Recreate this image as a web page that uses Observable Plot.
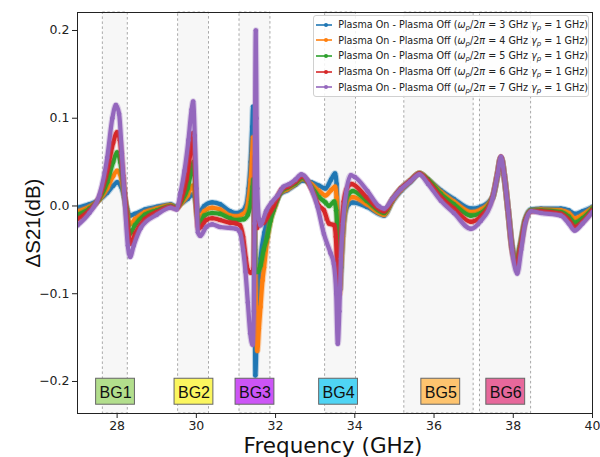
<!DOCTYPE html>
<html><head><meta charset="utf-8">
<script src="https://cdn.jsdelivr.net/npm/d3@7"></script>
<script src="https://cdn.jsdelivr.net/npm/@observablehq/plot@0.6"></script>
<style>
body{margin:0;background:#fff;}
#wrap{position:relative;width:600px;height:457px;}
#legend{position:absolute;left:313px;top:15px;width:276px;height:82px;box-sizing:border-box;background:rgba(255,255,255,0.85);border:1px solid #d0d0d0;border-radius:3px;font-family:"DejaVu Sans";font-size:9.6px;color:#222;padding-top:1px}
.row{height:15.6px;display:flex;align-items:center;white-space:nowrap}
.row svg{margin-left:1px;margin-right:6px}
.row sub{font-size:7px;vertical-align:-2px;line-height:0}
</style></head><body><div id="wrap"><div id="chart"></div><div id="legend"></div></div>
<script>
// ---- data ----
const omegaGHz = [3, 4, 5, 6, 7];
const gammaGHz = 1;
const colors = ["#1f77b4", "#ff7f0e", "#2ca02c", "#d62728", "#9467bd"];

const s3GHz = [[27.0,-0.002],[27.3,0.002],[27.55,0.007],[27.75,0.015],[27.9,0.023],[28.0,0.027],[28.1,0.022],[28.18,0.01],[28.25,-0.003],[28.32,-0.011],[28.45,-0.009],[28.7,-0.004],[29.0,-0.001],[29.35,0.002],[29.5,-0.001],[29.62,0.003],[29.78,0.008],[29.9,0.013],[29.96,0.01],[30.02,-0.004],[30.08,-0.006],[30.2,0.0],[30.4,0.004],[30.6,0.002],[30.85,-0.006],[31.0,-0.008],[31.15,-0.006],[31.25,0.0],[31.32,0.02],[31.37,0.05],[31.41,0.09],[31.43,0.113],[31.45,0.05],[31.47,-0.07],[31.49,-0.193],[31.52,-0.15],[31.56,-0.1],[31.62,-0.06],[31.72,-0.03],[31.85,-0.008],[32.0,0.003],[32.1,0.013],[32.3,0.018],[32.5,0.024],[32.68,0.029],[32.9,0.027],[33.1,0.023],[33.26,0.02],[33.4,0.03],[33.5,0.037],[33.54,0.025],[33.57,-0.02],[33.6,-0.075],[33.63,-0.095],[33.66,-0.07],[33.7,-0.035],[33.75,-0.01],[33.85,0.002],[33.95,0.004],[34.3,-0.001],[34.74,-0.011],[34.95,0.005],[35.16,0.017],[35.4,0.027],[35.63,0.037],[35.85,0.03],[36.17,0.018],[36.5,0.008],[36.93,-0.003],[37.18,-0.001],[37.48,0.01],[37.6,0.035],[37.69,0.055],[37.77,0.035],[37.87,-0.005],[37.97,-0.045],[38.08,-0.06],[38.17,-0.045],[38.3,-0.015],[38.45,-0.004],[38.7,-0.003],[39.2,-0.003],[39.4,-0.005],[39.55,-0.009],[39.75,-0.006],[40.0,-0.001]];

const s4GHz = [[27.0,-0.006],[27.3,-0.001],[27.55,0.007],[27.75,0.02],[27.9,0.034],[28.0,0.04],[28.1,0.032],[28.18,0.012],[28.25,-0.006],[28.32,-0.021],[28.45,-0.015],[28.7,-0.007],[29.0,-0.003],[29.35,0.001],[29.5,-0.002],[29.62,0.003],[29.78,0.012],[29.9,0.023],[29.96,0.015],[30.02,-0.008],[30.08,-0.013],[30.2,-0.006],[30.4,-0.002],[30.6,-0.004],[30.85,-0.011],[31.0,-0.012],[31.15,-0.01],[31.25,-0.006],[31.32,0.008],[31.37,0.03],[31.41,0.06],[31.43,0.078],[31.45,0.04],[31.48,-0.05],[31.51,-0.12],[31.54,-0.165],[31.58,-0.14],[31.62,-0.115],[31.67,-0.085],[31.71,-0.07],[31.8,-0.035],[31.87,-0.017],[32.0,0.001],[32.1,0.014],[32.3,0.019],[32.5,0.025],[32.68,0.031],[32.9,0.025],[33.1,0.017],[33.26,0.012],[33.4,0.018],[33.5,0.022],[33.54,0.01],[33.57,-0.03],[33.6,-0.08],[33.62,-0.1],[33.65,-0.075],[33.7,-0.035],[33.75,-0.008],[33.85,0.008],[33.95,0.01],[34.3,0.002],[34.74,-0.01],[34.95,0.006],[35.16,0.018],[35.4,0.028],[35.63,0.037],[35.85,0.03],[36.17,0.016],[36.5,0.005],[36.93,-0.007],[37.18,-0.004],[37.48,0.01],[37.6,0.035],[37.69,0.055],[37.77,0.035],[37.87,-0.005],[37.97,-0.047],[38.08,-0.062],[38.17,-0.047],[38.3,-0.016],[38.45,-0.005],[38.7,-0.004],[39.2,-0.005],[39.4,-0.008],[39.55,-0.014],[39.75,-0.01],[40.0,-0.002]];

const s5GHz = [[27.0,-0.01],[27.3,-0.003],[27.55,0.008],[27.75,0.027],[27.9,0.05],[28.0,0.061],[28.08,0.05],[28.18,0.015],[28.25,-0.01],[28.32,-0.032],[28.45,-0.022],[28.7,-0.01],[29.0,-0.005],[29.35,0.0],[29.5,-0.002],[29.62,0.005],[29.78,0.02],[29.9,0.045],[29.93,0.05],[29.97,0.025],[30.02,-0.012],[30.08,-0.02],[30.2,-0.011],[30.4,-0.008],[30.6,-0.009],[30.85,-0.014],[31.0,-0.016],[31.2,-0.015],[31.3,-0.01],[31.38,0.005],[31.42,0.022],[31.44,0.03],[31.46,0.0],[31.48,-0.05],[31.5,-0.075],[31.55,-0.075],[31.62,-0.068],[31.7,-0.05],[31.79,-0.035],[31.87,-0.017],[31.95,-0.005],[32.05,0.008],[32.15,0.017],[32.3,0.021],[32.5,0.026],[32.68,0.032],[32.9,0.022],[33.1,0.01],[33.26,0.004],[33.35,0.0],[33.48,0.005],[33.53,-0.005],[33.57,-0.04],[33.6,-0.09],[33.63,-0.07],[33.68,-0.03],[33.75,0.0],[33.85,0.014],[33.95,0.017],[34.3,0.006],[34.74,-0.008],[34.95,0.008],[35.16,0.02],[35.4,0.029],[35.63,0.037],[35.85,0.03],[36.17,0.014],[36.5,0.002],[36.93,-0.011],[37.18,-0.008],[37.48,0.01],[37.6,0.035],[37.69,0.055],[37.77,0.035],[37.87,-0.005],[37.97,-0.048],[38.08,-0.064],[38.17,-0.048],[38.3,-0.017],[38.45,-0.005],[38.7,-0.005],[39.2,-0.007],[39.4,-0.012],[39.55,-0.019],[39.75,-0.014],[40.0,-0.003]];

const s6GHz = [[27.0,-0.015],[27.3,-0.005],[27.55,0.01],[27.75,0.04],[27.9,0.072],[28.0,0.084],[28.07,0.075],[28.15,0.035],[28.22,0.0],[28.3,-0.035],[28.35,-0.043],[28.45,-0.032],[28.7,-0.015],[29.0,-0.007],[29.35,-0.001],[29.5,-0.003],[29.62,0.008],[29.75,0.03],[29.85,0.06],[29.92,0.083],[29.96,0.05],[30.0,0.0],[30.05,-0.026],[30.12,-0.024],[30.25,-0.016],[30.4,-0.014],[30.6,-0.016],[30.85,-0.019],[31.0,-0.02],[31.1,-0.022],[31.18,-0.035],[31.25,-0.06],[31.3,-0.073],[31.38,-0.076],[31.44,-0.072],[31.47,0.0],[31.49,0.056],[31.51,0.0],[31.53,-0.025],[31.6,-0.02],[31.7,-0.019],[31.8,-0.012],[31.95,0.0],[32.05,0.01],[32.15,0.019],[32.3,0.022],[32.5,0.028],[32.68,0.034],[32.9,0.02],[33.1,0.0],[33.22,-0.005],[33.35,-0.02],[33.48,-0.022],[33.52,-0.035],[33.56,-0.08],[33.58,-0.105],[33.61,-0.08],[33.66,-0.03],[33.72,0.005],[33.8,0.02],[33.92,0.025],[34.3,0.01],[34.74,-0.006],[34.95,0.008],[35.16,0.02],[35.4,0.029],[35.63,0.037],[35.85,0.028],[36.17,0.01],[36.5,-0.003],[36.93,-0.018],[37.18,-0.012],[37.48,0.01],[37.6,0.036],[37.69,0.056],[37.77,0.035],[37.87,-0.005],[37.97,-0.05],[38.08,-0.068],[38.17,-0.05],[38.3,-0.018],[38.45,-0.006],[38.7,-0.006],[39.2,-0.009],[39.4,-0.016],[39.55,-0.024],[39.75,-0.018],[40.0,-0.005]];

const s7GHz = [[27.0,-0.022],[27.3,-0.008],[27.55,0.012],[27.75,0.055],[27.88,0.1],[27.97,0.115],[28.05,0.105],[28.12,0.06],[28.2,0.0],[28.27,-0.045],[28.33,-0.058],[28.42,-0.045],[28.6,-0.025],[29.0,-0.01],[29.35,-0.002],[29.5,-0.004],[29.6,0.015],[29.7,0.04],[29.8,0.075],[29.88,0.11],[29.92,0.119],[29.96,0.08],[30.0,0.02],[30.04,-0.03],[30.1,-0.034],[30.25,-0.024],[30.4,-0.021],[30.6,-0.024],[30.85,-0.025],[31.0,-0.026],[31.1,-0.03],[31.18,-0.05],[31.24,-0.075],[31.3,-0.11],[31.36,-0.145],[31.42,-0.158],[31.45,-0.12],[31.47,-0.02],[31.48,0.08],[31.5,0.2],[31.52,0.1],[31.54,0.02],[31.58,-0.015],[31.62,-0.022],[31.68,-0.016],[31.76,-0.006],[31.9,0.004],[32.05,0.012],[32.2,0.022],[32.35,0.025],[32.5,0.03],[32.65,0.036],[32.8,0.03],[32.89,0.021],[33.06,-0.001],[33.22,-0.032],[33.39,-0.054],[33.47,-0.066],[33.53,-0.1],[33.57,-0.157],[33.61,-0.12],[33.65,-0.06],[33.7,-0.02],[33.78,0.015],[33.9,0.035],[34.0,0.033],[34.32,0.017],[34.6,0.0],[34.74,-0.003],[34.95,0.008],[35.16,0.019],[35.4,0.028],[35.63,0.036],[35.85,0.025],[36.17,0.006],[36.5,-0.008],[36.93,-0.026],[37.18,-0.017],[37.48,0.009],[37.6,0.035],[37.69,0.056],[37.77,0.035],[37.87,-0.005],[37.97,-0.05],[38.1,-0.077],[38.2,-0.05],[38.3,-0.02],[38.45,-0.006],[38.7,-0.008],[39.2,-0.011],[39.4,-0.02],[39.55,-0.028],[39.75,-0.02],[40.0,-0.007]];

const bandNames = ["BG1", "BG2", "BG3", "BG4", "BG5", "BG6"];
const bandStart = [27.64, 29.54, 31.09, 33.25, 35.25, 37.16];
const bandEnd   = [28.27, 30.32, 31.87, 34.03, 37.0, 38.45];
const labelFreq = [27.96, 29.94, 31.48, 33.59, 36.17, 37.81];
const labelValue = -0.2117;
const labelColors = ["#b2de8c", "#fbf65f", "#cc55f6", "#4fd4f4", "#fec46f", "#e7689b"];

const xTicks = [28, 30, 32, 34, 36, 38, 40];
const yTicks = [-0.2, -0.1, 0.0, 0.1, 0.2];

// ---- build ----
const allSeries = [s3GHz, s4GHz, s5GHz, s6GHz, s7GHz];
const yDomain = [-0.2365, 0.2205];
const bands = bandNames.map((n, i) => ({name: n, x1: bandStart[i], x2: bandEnd[i]}));
const labels = bandNames.map((n, i) => ({name: n, f: labelFreq[i], color: labelColors[i]}));

const marks = [
  Plot.rect(bands, {x1: "x1", x2: "x2", y1: yDomain[0], y2: yDomain[1], fill: "#f7f7f7", stroke: "#a8a8a8", strokeWidth: 1, strokeDasharray: "2.5,2.5"})
];
allSeries.forEach((pts, i) => {
  const c = colors[i];
  marks.push(
    Plot.line(pts, {x: d => d[0], y: d => d[1], stroke: c, strokeWidth: 6.4, strokeOpacity: 0.3, curve: "monotone-x", clip: true}),
    Plot.line(pts, {x: d => d[0], y: d => d[1], stroke: c, strokeWidth: 4.2, curve: "monotone-x", clip: true}),
    Plot.dot(pts, {x: d => d[0], y: d => d[1], r: 2.3, fill: c, clip: true})
  );
});
const boxW = 0.49, boxH = 0.0148;
marks.push(
  Plot.rect(labels, {x1: d => d.f - boxW, x2: d => d.f + boxW, y1: labelValue - boxH, y2: labelValue + boxH, fill: "color", stroke: "#666", strokeWidth: 1}),
  Plot.text(labels, {x: "f", y: labelValue, text: "name", fontSize: 16, fontFamily: "Liberation Sans", fill: "#111", dy: 1}),
  Plot.axisX({ticks: xTicks, tickSize: 5, tickPadding: 2.5, label: null, fontSize: 12.5}),
  Plot.axisY({ticks: yTicks, tickSize: 5, tickPadding: 3, label: null, fontSize: 12.5, tickFormat: d => d.toFixed(1).replace("-", "\u2212")}),
  Plot.frame({stroke: "#222"})
);

const chart = Plot.plot({
  width: 600, height: 457,
  marginLeft: 77, marginRight: 8, marginTop: 12, marginBottom: 44,
  x: {domain: [27, 40]},
  y: {domain: yDomain},
  style: {fontFamily: "DejaVu Sans", fontSize: "12.5px", background: "#fff", color: "#222"},
  marks
});
document.getElementById("chart").appendChild(chart);

const svg = d3.select(chart);
svg.append("text").attr("x", 333).attr("y", 453).attr("text-anchor", "middle")
  .attr("font-family", "DejaVu Sans").attr("font-size", 21.5).attr("fill", "#111").text("Frequency (GHz)");
svg.append("text").attr("transform", "translate(40,223) rotate(-90)").attr("text-anchor", "middle")
  .attr("font-family", "Liberation Sans").attr("font-size", 20.5).attr("fill", "#111").text("\u0394S21(dB)");

// legend
const legend = document.getElementById("legend");
omegaGHz.forEach((w, i) => {
  const row = document.createElement("div");
  row.className = "row";
  row.innerHTML = `<svg width="22" height="8"><line x1="1" y1="4" x2="21" y2="4" stroke="${colors[i]}" stroke-width="1.6"/><circle cx="11" cy="4" r="2" fill="${colors[i]}"/></svg>` +
    `<span>Plasma On - Plasma Off (<i>ω</i><sub><i>p</i></sub>/2<i>π</i> = ${w} GHz <i>γ</i><sub><i>p</i></sub> = ${gammaGHz} GHz)</span>`;
  legend.appendChild(row);
});
</script></body></html>
